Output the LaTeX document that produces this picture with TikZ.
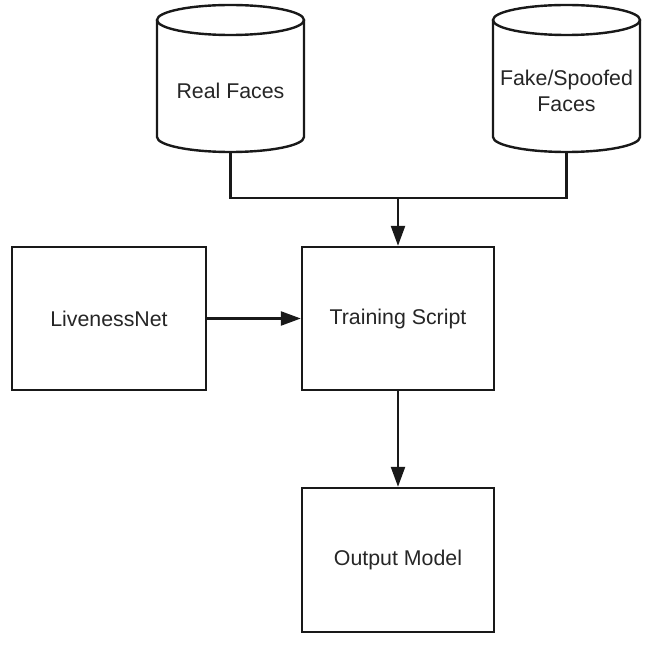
\documentclass[tikz,border=0pt]{standalone}
\usepackage{fontspec}
\setmainfont{Liberation Sans}
\usepackage{tikz}
\usetikzlibrary{arrows.meta}
\tikzset{
    pics/datastore/.style={
            code={
                    \coordinate (-north) at (0,{0.5*\pgfkeysvalueof{/tikz/datastore/height}});
                    \coordinate (-south) at (0,{-0.5*\pgfkeysvalueof{/tikz/datastore/height}});
                    \draw[/tikz/datastore/border]
                    ({-0.5*\pgfkeysvalueof{/tikz/datastore/width}},{0.5*\pgfkeysvalueof{/tikz/datastore/height}-\pgfkeysvalueof{/tikz/datastore/cap}})
                    -- ({-0.5*\pgfkeysvalueof{/tikz/datastore/width}},{-0.5*\pgfkeysvalueof{/tikz/datastore/height}+\pgfkeysvalueof{/tikz/datastore/cap}})
                    arc[start angle=180, end angle=360, x radius={0.5*\pgfkeysvalueof{/tikz/datastore/width}}, y radius=\pgfkeysvalueof{/tikz/datastore/cap}]
                    -- ({0.5*\pgfkeysvalueof{/tikz/datastore/width}},{0.5*\pgfkeysvalueof{/tikz/datastore/height}-\pgfkeysvalueof{/tikz/datastore/cap}});
                    \draw[/tikz/datastore/border]
                    (0,{0.5*\pgfkeysvalueof{/tikz/datastore/height}-\pgfkeysvalueof{/tikz/datastore/cap}})
                    ellipse[x radius={0.5*\pgfkeysvalueof{/tikz/datastore/width}}, y radius=\pgfkeysvalueof{/tikz/datastore/cap}];
                    \node[label text, align=center] (-node) at (0,-12) {#1};
                }
        },
    datastore/width/.initial={147},
    datastore/height/.initial={147},
    datastore/cap/.initial={15},
    datastore/border/.style={
            line width=1.8pt, black!90
        },
    label text/.style={
            font=\fontsize{16}{19.5}\selectfont, text=black!85
        },
    block/.style={
            draw=black!90, line width=1.8pt, label text,
            minimum width=144pt, minimum height=107.25pt
        },
    flow/.style={
            line width=1.8pt, black!90
        },
    arrow/.style={
            flow, -{Triangle[length=15pt, width=10.5pt]}
        }
}
\begin{document}
\begin{tikzpicture}[x=0.75pt, y=0.75pt]
        \useasboundingbox[fill=white] (0,0) rectangle (657,-652);

        \pic (real) at (230.5,-78.5) {datastore={Real Faces}};
        \pic (fake) at (566.5,-78.5) {datastore={Fake/Spoofed\\Faces}};

        \node[block, minimum width=145.5pt] (live) at (109,-318.5) {LivenessNet};
        \node[block] (train) at (398,-318.5) {Training Script};
        \node[block, minimum height=108pt] (output) at (398,-560) {Output Model};

        \coordinate (join) at (398,-198);

        \draw[flow] (real-south) |- (join) -| (fake-south);
        \draw[arrow] (join) -- (train);
        \draw[arrow] (live) -- (train);
        \draw[arrow] (train) -- (output);

    \end{tikzpicture}
\end{document}
